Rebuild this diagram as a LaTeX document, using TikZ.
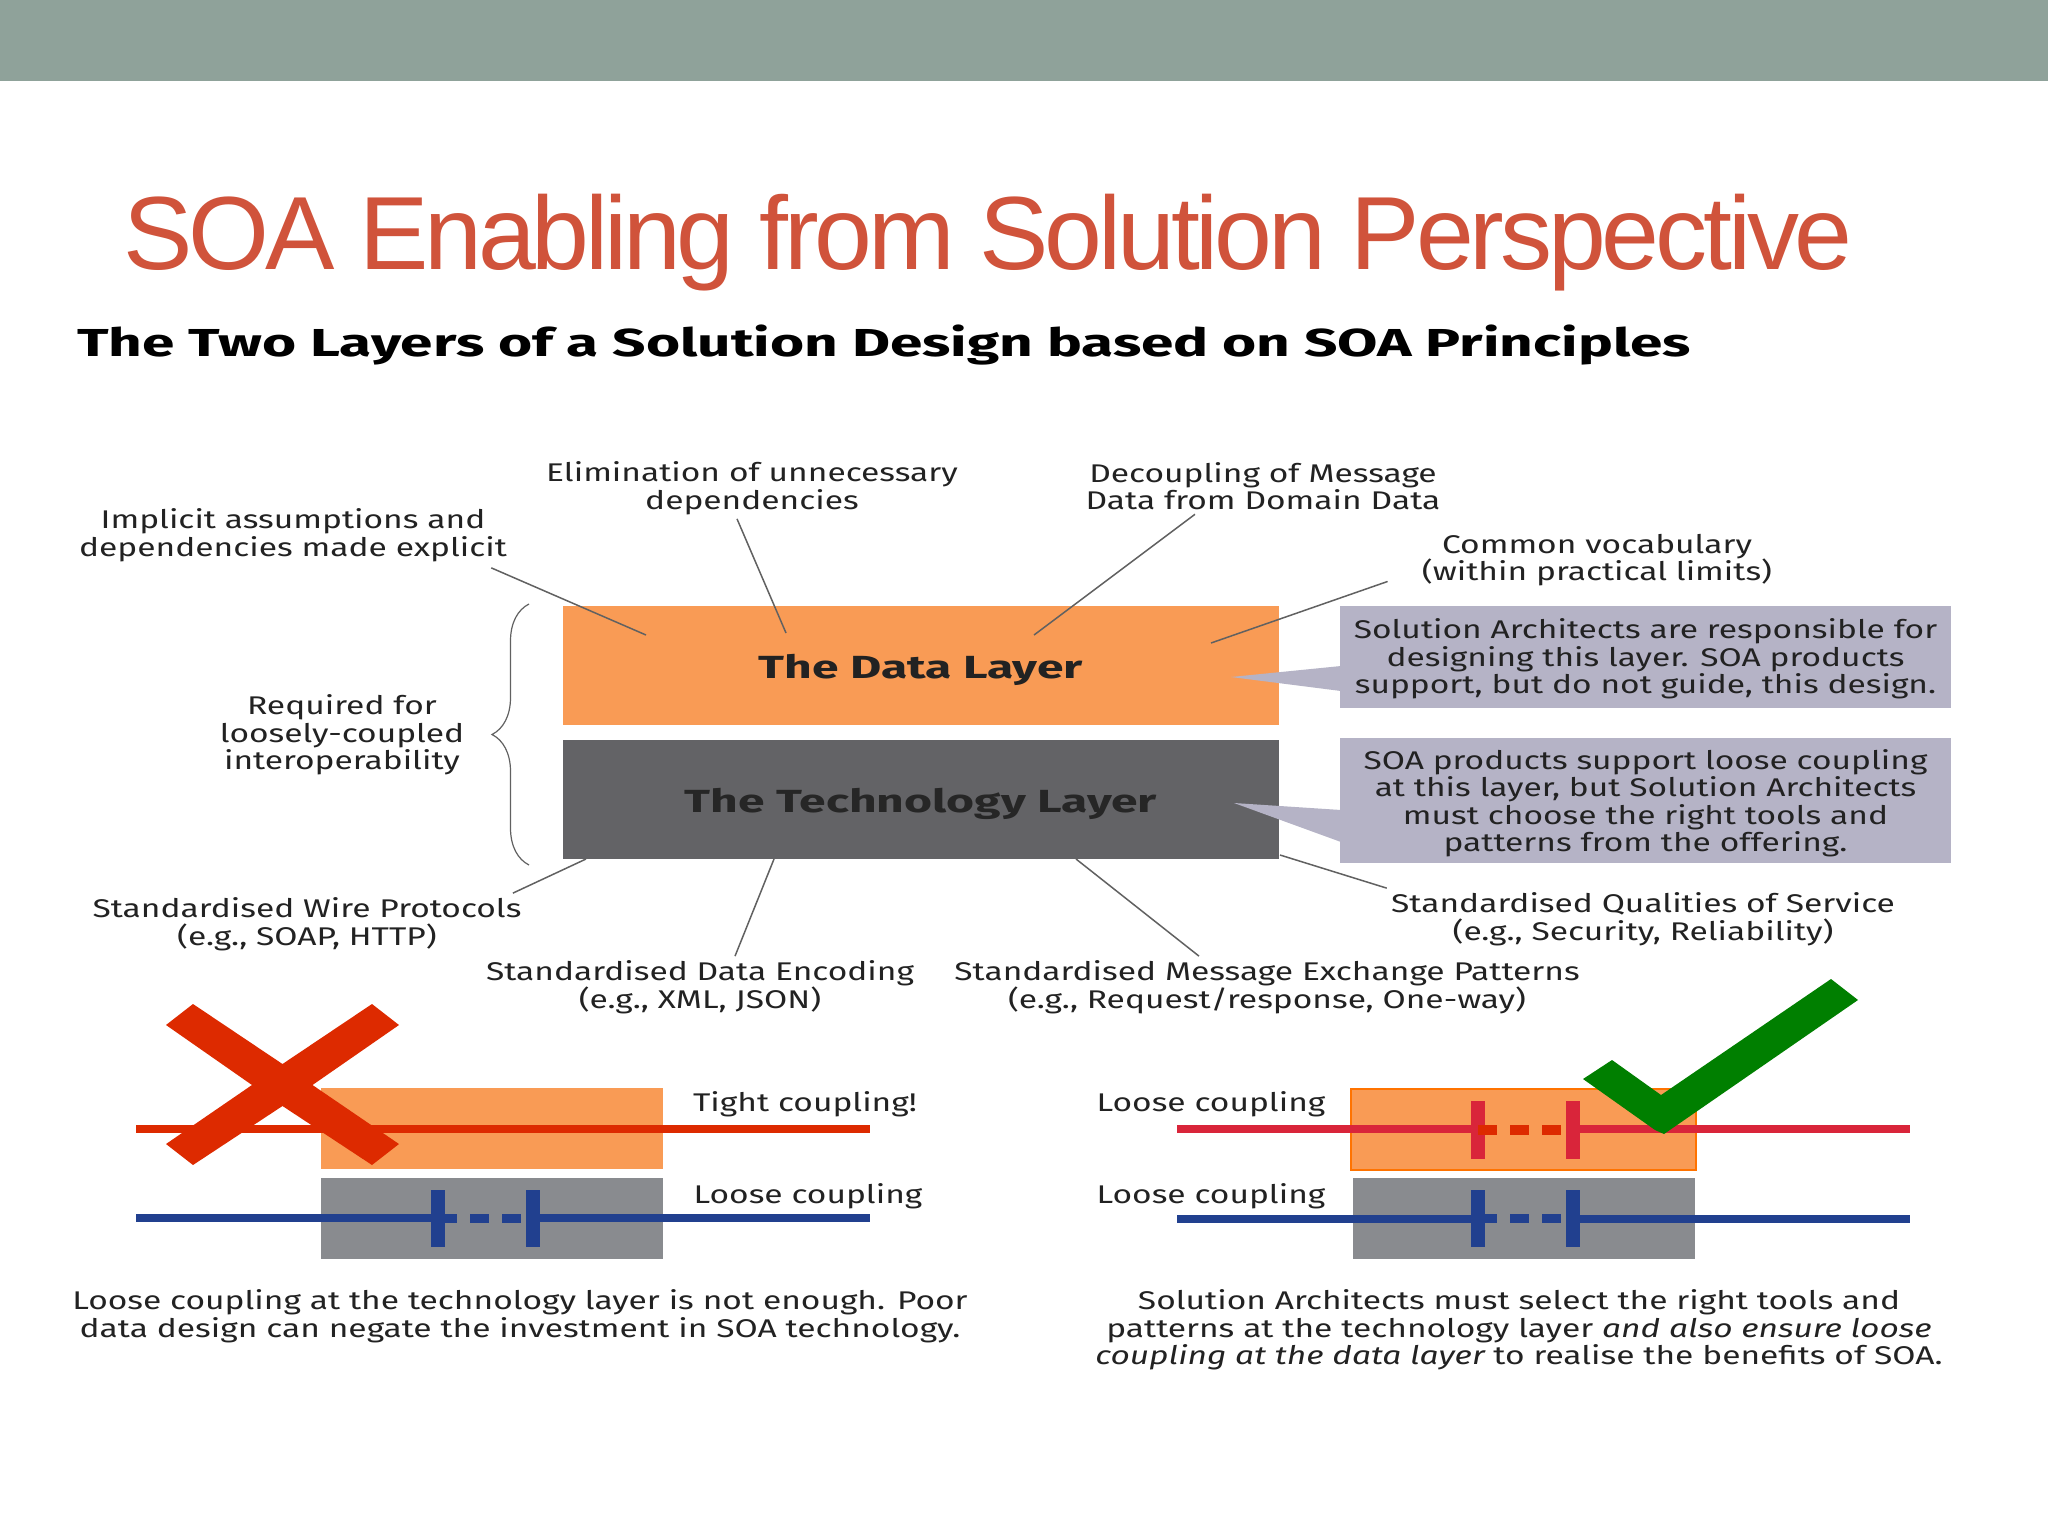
\documentclass[tikz,border=0pt]{standalone}
\usepackage{fontspec}
\usepackage{xcolor}
\usepackage{tikz}
\usetikzlibrary{decorations.pathreplacing}
\setmainfont[FakeStretch=1.31]{Fira Sans}
\newfontfamily\titlefont[LetterSpace=-4]{Liberation Sans}
\newfontfamily\headfont[FakeStretch=1.5]{Fira Sans}
\definecolor{bandgreen}{HTML}{8FA29A}
\definecolor{titlered}{HTML}{D0533B}
\definecolor{layerorange}{HTML}{F99B55}
\definecolor{layergrey}{HTML}{636366}
\definecolor{boxgrey}{HTML}{898B8F}
\definecolor{calloutgrey}{HTML}{B5B3C6}
\definecolor{crossred}{HTML}{DD2A00}
\definecolor{wirered}{HTML}{D9253A}
\definecolor{wireblue}{HTML}{21408F}
\definecolor{tickgreen}{HTML}{007F00}
\definecolor{inkgrey}{HTML}{222222}
\newcommand{\couplingjoint}[5]{%
    \draw[line width=7pt,#4] (#1,#2) -- (#1,#3);
    \draw[line width=7pt,#4] (#1+95,#2) -- (#1+95,#3);
    \foreach \dashstart in {0,32,64} {
        \draw[line width=4.8pt,#5] (#1+\dashstart,#2*0.5+#3*0.5) -- (#1+\dashstart+19,#2*0.5+#3*0.5);
    }
}

\begin{document}
\begin{tikzpicture}[x=0.5pt,y=-0.5pt]
    \tikzstyle{every node}=[text=inkgrey,align=center,font=\fontsize{12.8}{13.75}\selectfont,inner sep=2pt]
    \tikzstyle{leader}=[draw=black!62,line width=0.75pt]
    \tikzstyle{layer}=[minimum width=358pt,minimum height=59.5pt,inner sep=0pt]
    \tikzstyle{layertext}=[font=\headfont\fontsize{16}{20}\selectfont\bfseries]
    \tikzstyle{callout}=[fill=calloutgrey,minimum width=305.5pt,inner sep=0pt]
    \tikzstyle{smallbox}=[minimum width=171pt,minimum height=40.5pt,inner sep=0pt]
    \tikzstyle{wire}=[line width=4.4pt]
    \useasboundingbox (0,0) rectangle (2048,1536);
    \fill[white] (0,0) rectangle (2048,1536);
    \fill[bandgreen] (0,0) rectangle (2048,81);
    \node[text=titlered,font=\titlefont\fontsize{52}{56}\selectfont] (title) at (988,243) {SOA Enabling from Solution Perspective};
    \node[text=black,font=\headfont\fontsize{19.5}{22}\selectfont\bfseries] (subtitle) at (884,345) {The Two Layers of a Solution Design based on SOA Principles};

    \node[layer,fill=layerorange] (dataLayer) at (921,665.5) {};
    \node[layer,fill=layergrey] (techLayer) at (921,799.5) {};
    \node[layertext] (dataTitle) at (921,670) {The Data Layer};
    \node[layertext,text=black!85] (techTitle) at (921,804) {The Technology Layer};

    \node[callout,minimum height=51pt] (dataNote) at (1645.5,657) {};
    \node[callout,minimum height=62.5pt] (techNote) at (1645.5,800.5) {};
    \node (dataNoteText) at (1645.5,659) {Solution Architects are responsible for\\designing this layer. SOA products\\support, but do not guide, this design.};
    \node (techNoteText) at (1645.5,803) {SOA products support loose coupling\\at this layer, but Solution Architects\\must choose the right tools and\\patterns from the offering.};
    \coordinate (dataTip) at (1231,677);
    \coordinate (dataBaseA) at (1341,666);
    \coordinate (dataBaseB) at (1341,691);
    \coordinate (techTip) at (1234,803);
    \coordinate (techBaseA) at (1341,810);
    \coordinate (techBaseB) at (1341,842);
    \fill[calloutgrey] (dataTip) -- (dataBaseA) -- (dataBaseB) -- cycle;
    \fill[calloutgrey] (techTip) -- (techBaseA) -- (techBaseB) -- cycle;

    \node (implicit) at (293,535) {Implicit assumptions and\\dependencies made explicit};
    \node (elimination) at (752,488) {Elimination of unnecessary\\dependencies};
    \node (decoupling) at (1263,486) {Decoupling of Message\\Data from Domain Data};
    \node (vocabulary) at (1597,560) {Common vocabulary\\(within practical limits)};
    \node (required) at (342,735) {Required for\\loosely-coupled\\interoperability};
    \node (wireProto) at (307,924) {Standardised Wire Protocols\\(e.g., SOAP, HTTP)};
    \node (dataEnc) at (700,987) {Standardised Data Encoding\\(e.g., XML, JSON)};
    \node (msgPat) at (1267,987) {Standardised Message Exchange Patterns\\(e.g., Request/response, One-way)};
    \node (qos) at (1643,919) {Standardised Qualities of Service\\(e.g., Security, Reliability)};

    \coordinate (implicitEnd) at (646,635);
    \coordinate (eliminationEnd) at (786,633);
    \coordinate (decouplingEnd) at (1034,635);
    \coordinate (vocabularyEnd) at (1211,643);
    \coordinate (wireEnd) at (586,859);
    \coordinate (encEnd) at (774,859);
    \coordinate (msgEnd) at (1076,859);
    \coordinate (qosEnd) at (1280,855);
    \draw[leader] ([xshift=-10pt,yshift=-1pt]implicit.south east) -- (implicitEnd);
    \draw[leader] ([xshift=-7.5pt]elimination.south) -- (eliminationEnd);
    \draw[leader] ([xshift=-34pt]decoupling.south) -- (decouplingEnd);
    \draw[leader] ([xshift=-15pt,yshift=4.5pt]vocabulary.south west) -- (vocabularyEnd);
    \draw[leader] ([xshift=-6.5pt]wireProto.north east) -- (wireEnd);
    \draw[leader] ([xshift=17.5pt]dataEnc.north) -- (encEnd);
    \draw[leader] ([xshift=-34pt]msgPat.north) -- (msgEnd);
    \draw[leader] (qos.north west) -- (qosEnd);
    \draw[draw=black!62,line width=0.6pt,decorate,decoration={brace,amplitude=18.5pt}] (529,865) -- (529,604);

    \node[smallbox,fill=layerorange] (leftData) at (492,1128.5) {};
    \node[smallbox,fill=boxgrey] (leftTech) at (492,1218.5) {};
    \draw[wire,crossred] (136,1129) -- (870,1129);
    \draw[wire,wireblue] (136,1218) -- (438,1218);
    \draw[wire,wireblue] (533,1218) -- (870,1218);
    \couplingjoint{438}{1190}{1247}{wireblue}{wireblue}
    \fill[crossred] (193,1004) -- (282.5,1064) -- (372,1004) -- (399,1025) -- (312.5,1085) -- (399,1144) -- (372,1165) -- (282.5,1106) -- (193,1165) -- (166,1144) -- (252,1085) -- (166,1025) -- cycle;
    \node (tight) at (805,1104) {Tight coupling!};
    \node (looseLeft) at (808,1196) {Loose coupling};
    \node (captionLeft) at (520,1316) {Loose coupling at the technology layer is not enough. Poor\\data design can negate the investment in SOA technology.};

    \node[smallbox,fill=layerorange,draw=orange!90!red,line width=1.2pt,minimum width=172.5pt] (rightData) at (1523.5,1129.5) {};
    \node[smallbox,fill=boxgrey] (rightTech) at (1524,1218.5) {};
    \draw[wire,wirered] (1177,1129) -- (1478,1129);
    \draw[wire,wirered] (1573,1129) -- (1910,1129);
    \draw[wire,wireblue] (1177,1219) -- (1478,1219);
    \draw[wire,wireblue] (1573,1219) -- (1910,1219);
    \couplingjoint{1478}{1101}{1159}{wirered}{crossred}
    \couplingjoint{1478}{1190}{1247}{wireblue}{wireblue}
    \fill[tickgreen] (1612,1060) -- (1661,1095) -- (1831,979) -- (1858,1000) -- (1664,1134) -- (1655,1130) -- (1583,1079) -- cycle;
    \node (looseData) at (1211,1104) {Loose coupling};
    \node (looseTech) at (1211,1196) {Loose coupling};
    \node (captionRight) at (1519,1330) {Solution Architects must select the right tools and\\patterns at the technology layer \itshape and also ensure loose\\\itshape coupling at the data layer \upshape to realise the benefits of SOA.};
\end{tikzpicture}
\end{document}
